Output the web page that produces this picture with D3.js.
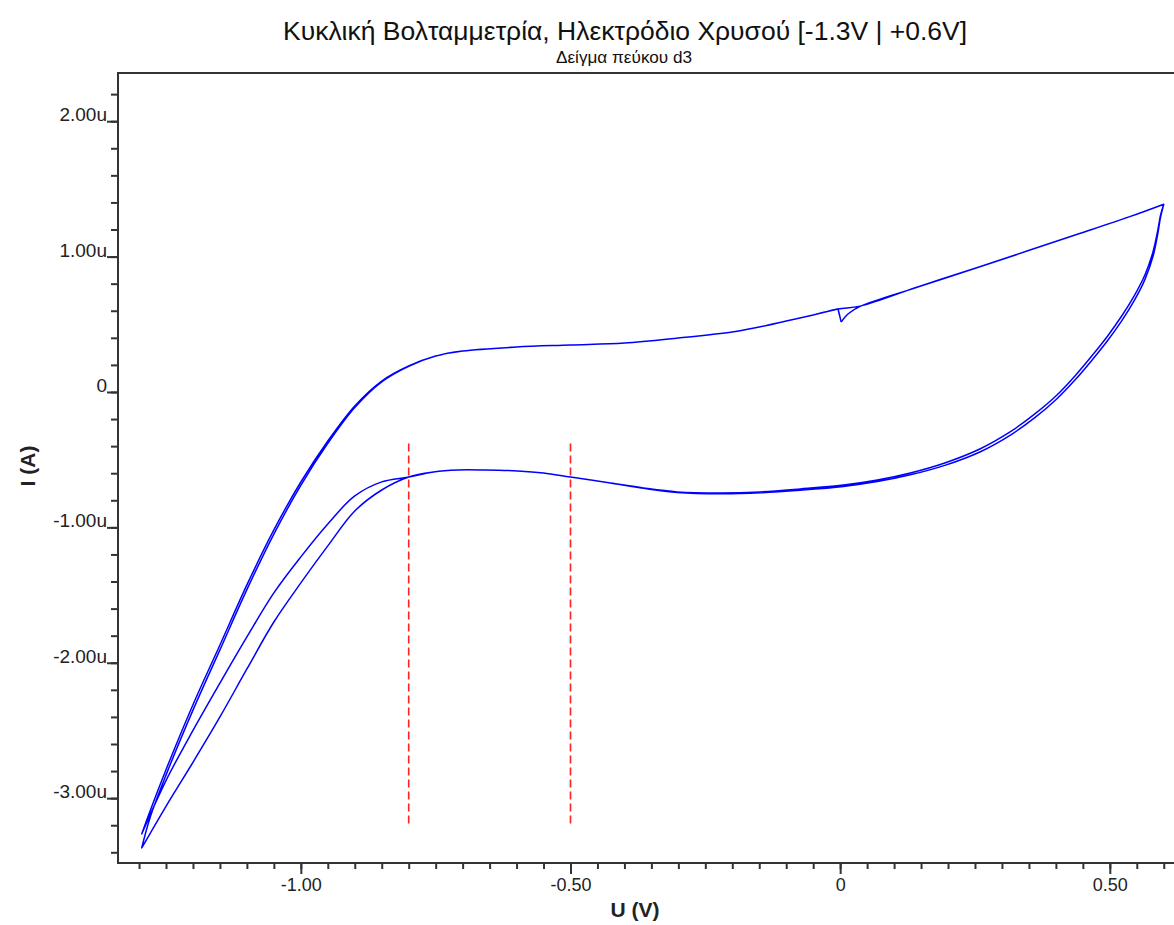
<!DOCTYPE html>
<html>
<head>
<meta charset="utf-8">
<script src="https://cdn.jsdelivr.net/npm/d3@7"></script>
<style>
  body { margin: 0; background: #fff; }
  text { font-family: "Liberation Sans", Arial, sans-serif; }
</style>
</head>
<body>
<div id="chart"></div>
<script>
const svgWidth = 1174;
const svgHeight = 925;
const plot = { left: 118, top: 73, right: 1174, bottom: 863 };

// first half sweep, starts at 0 V (the little notch)
const startV = [0.002, 0.015, 0.037, 0.148, 0.259, 0.444, 0.537, 0.600];
const startI = [0.517, 0.578, 0.632, 0.780, 0.925, 1.170, 1.295, 1.387];

// anodic (upper) branch, -1.3 V -> 0 V, two cycles
const anodicV = [-1.295, -1.28, -1.25, -1.20, -1.15, -1.10, -1.05, -1.00, -0.95, -0.90, -0.85, -0.80,
  -0.75, -0.70, -0.60, -0.50, -0.40, -0.30, -0.20, -0.15, -0.10, -0.05, -0.004];
const anodicI1 = [-3.264, -3.10, -2.79, -2.31, -1.869, -1.425, -1.019, -0.665, -0.362, -0.103, 0.081, 0.192,
  0.266, 0.303, 0.332, 0.347, 0.362, 0.399, 0.443, 0.480, 0.524, 0.569, 0.613];
const anodicI2 = [-3.368, -3.15, -2.83, -2.35, -1.905, -1.46, -1.05, -0.69, -0.38, -0.115, 0.075, 0.19,
  0.265, 0.302, 0.332, 0.347, 0.362, 0.399, 0.443, 0.480, 0.524, 0.569, 0.613];

// anodic branch continuing past 0 V up to the vertex
const anodicRightV = [0.037, 0.148, 0.259, 0.444, 0.537, 0.600];
const anodicRightI = [0.634, 0.782, 0.926, 1.170, 1.295, 1.387];

// cathodic (lower) branch, +0.6 V -> -0.8 V
const cathodicV = [0.600, 0.594, 0.589, 0.580, 0.565, 0.546, 0.522, 0.496, 0.468, 0.437, 0.402, 0.361,
  0.315, 0.259, 0.194, 0.130, 0.069, 0.006, -0.074, -0.148, -0.222, -0.302, -0.365, -0.426, -0.500,
  -0.550, -0.598, -0.661, -0.709, -0.754, -0.800];
const cathodicI1 = [1.387, 1.306, 1.196, 1.034, 0.864, 0.716, 0.561, 0.414, 0.273, 0.126, -0.022, -0.162,
  -0.295, -0.421, -0.524, -0.598, -0.650, -0.687, -0.716, -0.738, -0.746, -0.738, -0.709, -0.672, -0.628,
  -0.598, -0.583, -0.576, -0.576, -0.591, -0.628];
const cathodicI2 = [1.387, 1.290, 1.170, 1.000, 0.830, 0.680, 0.525, 0.380, 0.240, 0.095, -0.050, -0.190,
  -0.320, -0.443, -0.542, -0.612, -0.662, -0.698, -0.726, -0.745, -0.752, -0.742, -0.711, -0.672, -0.628,
  -0.598, -0.583, -0.576, -0.576, -0.591, -0.628];

// cathodic tail, -0.8 V -> -1.3 V, the two cycles split here
const tailV = [-0.85, -0.90, -0.95, -1.00, -1.05, -1.10, -1.15, -1.20, -1.25, -1.295];
const tailI1 = [-0.664, -0.768, -0.975, -1.218, -1.484, -1.809, -2.150, -2.500, -2.870, -3.264];
const tailI2 = [-0.724, -0.879, -1.137, -1.410, -1.699, -2.046, -2.400, -2.735, -3.060, -3.368];

// red dashed markers
const markerV = [-0.80, -0.50];
const markerRange = [-0.38, -3.20];

// ticks
const xMajor = [-1.0, -0.5, 0, 0.5];
const xMajorLabels = ["-1.00", "-0.50", "0", "0.50"];
const xMinor = d3.range(-1.30, 0.601, 0.05);
const yMajor = [-3, -2, -1, 0, 1, 2];
const yMajorLabels = ["-3.00u", "-2.00u", "-1.00u", "0", "1.00u", "2.00u"];
const yMinor = d3.range(-3.4, 2.21, 0.2);

const zip = (vs, is) => vs.map((v, i) => [v, is[i]]);

// one continuous recording: start at 0 V, two full cycles, back to 0 V
const sweep = [].concat(
  zip(startV, startI),
  zip(cathodicV, cathodicI1), zip(tailV, tailI1),
  zip(anodicV, anodicI1), zip(anodicRightV, anodicRightI),
  zip(cathodicV, cathodicI2), zip(tailV, tailI2),
  zip(anodicV, anodicI2)
);
// closing jump at 0 V (drawn straight so the spline does not overshoot)
const closing = [sweep[sweep.length - 1], sweep[0]];

const svg = d3.select("#chart")
  .append("svg")
  .attr("width", svgWidth)
  .attr("height", svgHeight);

const x = d3.scaleLinear()
  .domain([-1.339, 0.619])
  .range([plot.left, plot.right]);

const y = d3.scaleLinear()
  .domain([-3.479, 2.356])
  .range([plot.bottom, plot.top]);

// Titles
svg.append("text")
  .attr("x", 625).attr("y", 40)
  .attr("text-anchor", "middle")
  .attr("textLength", 684)
  .attr("lengthAdjust", "spacingAndGlyphs")
  .style("font-size", "26px")
  .attr("fill", "#111")
  .text("Κυκλική Βολταμμετρία, Ηλεκτρόδιο Χρυσού [-1.3V | +0.6V]");

svg.append("text")
  .attr("x", 624).attr("y", 63)
  .attr("text-anchor", "middle")
  .attr("textLength", 136)
  .attr("lengthAdjust", "spacingAndGlyphs")
  .style("font-size", "17px")
  .attr("fill", "#111")
  .text("Δείγμα πεύκου d3");

// Axes
const axisColor = "#333";

const yMinorAxis = svg.append("g")
  .attr("transform", `translate(${plot.left},0)`)
  .call(d3.axisLeft(y).tickValues(yMinor).tickSize(7).tickFormat(""));

const yMajorAxis = svg.append("g")
  .attr("transform", `translate(${plot.left},0)`)
  .call(d3.axisLeft(y).tickValues(yMajor).tickSize(11).tickPadding(0)
    .tickFormat((d, i) => yMajorLabels[i]));

yMajorAxis.selectAll("text")
  .attr("dy", "-0.02em")
  .style("font-size", "19px")
  .attr("fill", "#222");

const xMinorAxis = svg.append("g")
  .attr("transform", `translate(0,${plot.bottom})`)
  .call(d3.axisBottom(x).tickValues(xMinor).tickSize(6).tickFormat(""));

const xMajorAxis = svg.append("g")
  .attr("transform", `translate(0,${plot.bottom})`)
  .call(d3.axisBottom(x).tickValues(xMajor).tickSize(11).tickPadding(4)
    .tickFormat((d, i) => xMajorLabels[i]));

xMajorAxis.selectAll("text")
  .style("font-size", "18px")
  .attr("fill", "#222");

[yMinorAxis, yMajorAxis, xMinorAxis, xMajorAxis].forEach(g => {
  g.select(".domain").remove();
  g.selectAll("line").attr("stroke", axisColor).attr("stroke-width", 2);
});

// frame: top, left and bottom lines
svg.append("path")
  .attr("d", `M${plot.right},${plot.top}H${plot.left}V${plot.bottom}H${plot.right}`)
  .attr("fill", "none")
  .attr("stroke", axisColor)
  .attr("stroke-width", 2);

// axis titles
svg.append("text")
  .attr("x", 635).attr("y", 917)
  .attr("text-anchor", "middle")
  .style("font-size", "21px")
  .style("font-weight", "bold")
  .attr("fill", "#222")
  .text("U (V)");

svg.append("text")
  .attr("transform", "translate(35,466) rotate(-90)")
  .attr("text-anchor", "middle")
  .style("font-size", "21px")
  .style("font-weight", "bold")
  .attr("fill", "#222")
  .text("I (A)");

// markers
svg.selectAll(".marker")
  .data(markerV)
  .join("line")
  .attr("class", "marker")
  .attr("x1", d => x(d)).attr("x2", d => x(d))
  .attr("y1", y(markerRange[0])).attr("y2", y(markerRange[1]))
  .attr("stroke", "#ff2020")
  .attr("stroke-width", 1.6)
  .attr("stroke-dasharray", "8,4");

// voltammogram
const line = d3.line()
  .x(d => x(d[0]))
  .y(d => y(d[1]))
  .curve(d3.curveCatmullRom.alpha(0.5));

svg.append("path")
  .datum(sweep)
  .attr("d", line)
  .attr("fill", "none")
  .attr("stroke", "#0000ff")
  .attr("stroke-width", 1.5)
  .attr("stroke-linejoin", "round");

svg.append("path")
  .datum(closing)
  .attr("d", line.curve(d3.curveLinear))
  .attr("fill", "none")
  .attr("stroke", "#0000ff")
  .attr("stroke-width", 1.5);
</script>
</body>
</html>
